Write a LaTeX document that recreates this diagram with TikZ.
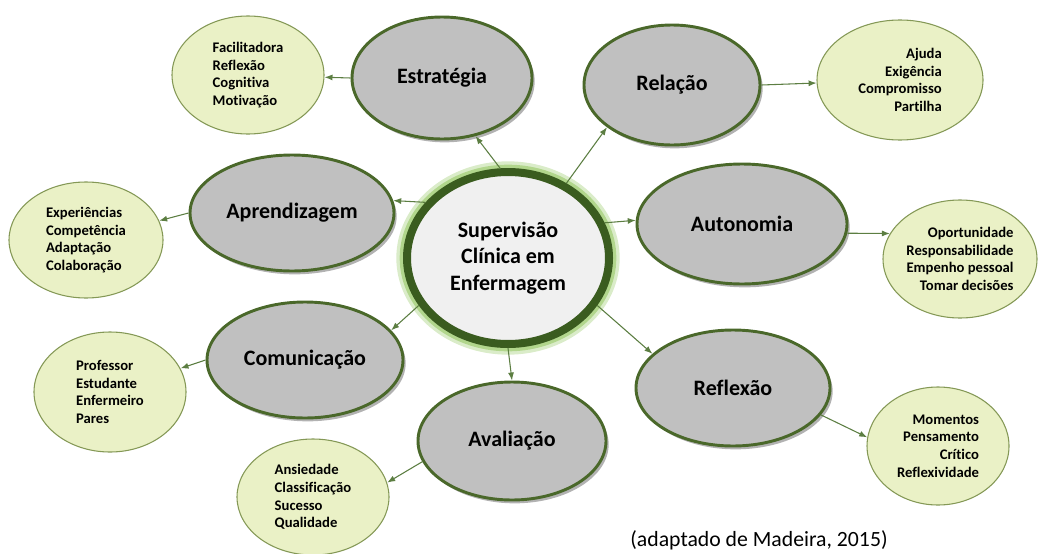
\documentclass[tikz,border=0pt]{standalone}
\usepackage{fontspec}
\setmainfont{Carlito}[Ligatures=CommonOff]
\usetikzlibrary{positioning,shapes.geometric,arrows.meta,shadows}
\definecolor{topicgrey}{RGB}{192,192,192}
\definecolor{topicline}{RGB}{74,104,42}
\definecolor{itemfill}{RGB}{234,241,198}
\definecolor{itemline}{RGB}{132,152,86}
\definecolor{hubfill}{RGB}{240,240,240}
\definecolor{hubline}{RGB}{58,92,31}
\definecolor{hubglow}{RGB}{150,200,100}
\definecolor{arrowgreen}{RGB}{92,126,66}

\begin{document}
\begin{tikzpicture}[x=0.75pt,y=-0.75pt,
  ell/.style 2 args={ellipse, inner sep=0pt, minimum width=#1*0.75pt, minimum height=#2*0.75pt},
  hub/.style={fill=hubfill, draw=hubline, line width=6pt, align=center,
    preaction={draw=hubglow, line width=16pt, opacity=0.35},
    preaction={draw=hubglow, line width=11pt, opacity=0.6},
    font=\fontsize{16.5}{20}\selectfont\bfseries},
  topic/.style={fill=topicgrey, draw=topicline, line width=2.2pt,
    drop shadow={shadow xshift=2pt, shadow yshift=-2.5pt, opacity=0.3, fill=black},
    font=\fontsize{16.5}{20}\selectfont\bfseries},
  item/.style={fill=itemfill, draw=itemline, line width=0.8pt,
    font=\fontsize{11}{13.2}\selectfont\bfseries},
  arr/.style={draw=arrowgreen, line width=0.8pt, -{Latex[length=6pt,width=4.5pt]}}
]
\useasboundingbox (0,0) rectangle (1038,553);

\node[item, ell={152}{118}, align=left] (fac) at (248,75) {Facilitadora\\Reflexão\\Cognitiva\\Motivação};
\node[item, ell={166}{120}, align=right] (aju) at (900,80) {Ajuda\\Exigência\\Compromisso\\Partilha};
\node[item, ell={154}{116}, align=left] (exp) at (86,240) {Experiências\\Competência\\Adaptação\\Colaboração};
\node[item, ell={154}{118}, align=right] (opo) at (960,259) {Oportunidade\\Responsabilidade\\Empenho pessoal\\Tomar decisões};
\node[item, ell={152}{120}, align=left] (pro) at (110,392) {Professor\\Estudante\\Enfermeiro\\Pares};
\node[item, ell={152}{116}, align=left] (ans) at (313,497) {Ansiedade\\Classificação\\Sucesso\\Qualidade};
\node[item, ell={142}{118}, align=right] (mom) at (938,446) {Momentos\\Pensamento\\Crítico\\Reflexividade};

\node[topic, ell={180}{122}] (estr) at (442,78) {Estratégia};
\node[topic, ell={176}{120}] (rel) at (672,85) {Relação};
\node[topic, ell={204}{116}] (apr) at (292,213) {Aprendizagem};
\node[topic, ell={210}{120}] (aut) at (742,224) {Autonomia};
\node[topic, ell={196}{116}] (com) at (305,360) {Comunicação};
\node[topic, ell={194}{116}] (refl) at (733,388) {Reflexão};
\node[topic, ell={188}{118}] (aval) at (512,441) {Avaliação};

\node[hub, ell={202}{172}] (sup) at (508,258) {Supervisão\\Clínica em\\Enfermagem};

\draw[arr] (sup.95) -- (estr.-60);
\draw[arr] (sup.52) -- (rel.213);
\draw[arr] (sup.146) -- (apr.7);
\draw[arr] (sup.20) -- (aut.178);
\draw[arr] (sup.208) -- (com.19);
\draw[arr] (sup.south) -- (aval.north);
\draw[arr] (sup.-28) -- (refl.157);

\draw[arr] (estr.west) -- (fac);
\draw[arr] (rel.east) -- (aju);
\draw[arr] (apr.west) -- (exp);
\draw[arr] (aut.355) -- (opo.160);
\draw[arr] (com.west) -- (pro);
\draw[arr] (aval.193) -- (ans.11);
\draw[arr] (refl.-17) -- (mom.173);

\node[font=\fontsize{16.3}{19}\selectfont] (src) at (759,540) {(adaptado de Madeira, 2015)};
\end{tikzpicture}
\end{document}
